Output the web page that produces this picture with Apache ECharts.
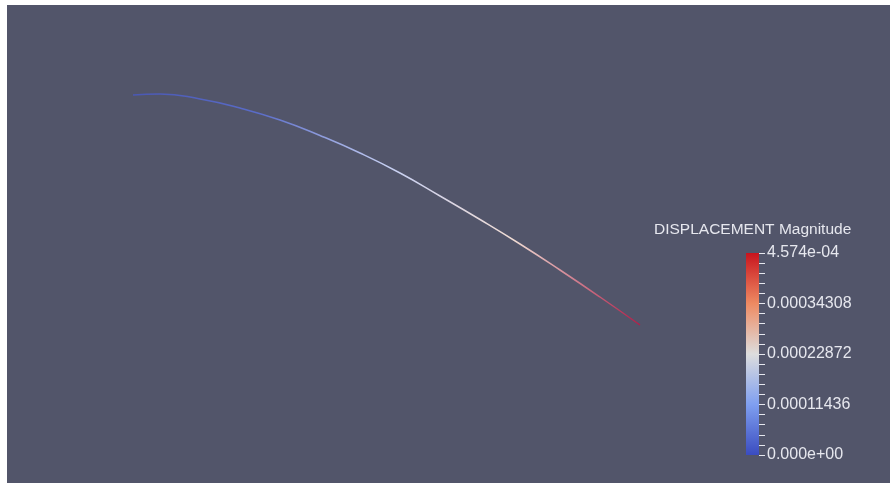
<!DOCTYPE html>
<html>
<head>
<meta charset="utf-8">
<style>html,body{margin:0;padding:0;background:#fff}#c{width:890px;height:483px}</style>
<script src="https://cdn.jsdelivr.net/npm/echarts@6/dist/echarts.min.js"></script>
</head>
<body>
<div id="c"></div>
<script>
const beamX = [133,160,200,240,280,320,360,400,440,480,520,560,600,640];
const beamY = [95,94,99,108,120,135.5,153,173,196,219.5,244,270,297,325];
const lineRamp = ['#4a58b4','#5a6cc8','#c4cef2','#f0dcd4','#b01e48'];
const scaleMax = 4.574e-4;
const scaleStep = 1.1435e-4;
const tickLabels = ['0.000e+00','0.00011436','0.00022872','0.00034308','4.574e-04'];
const scaleTitle = 'DISPLACEMENT Magnitude';
const ink = '#e6e7ee';

const chart = echarts.init(document.getElementById('c'), null, {renderer:'canvas'});
chart.setOption({
  animation:false,
  backgroundColor:'#ffffff',
  title:{text:scaleTitle,left:654,top:222,padding:0,textStyle:{color:ink,fontFamily:'Liberation Sans',fontSize:15.5,fontWeight:'normal'}},
  grid:[
    {left:7,top:5,right:0,bottom:0,show:true,backgroundColor:'#52556a',borderWidth:0},
    {left:746,top:253,width:13,height:202,show:false}
  ],
  xAxis:[
    {gridIndex:0,type:'value',min:7,max:890,show:false},
    {gridIndex:1,type:'category',data:['m'],show:false}
  ],
  yAxis:[
    {gridIndex:0,type:'value',min:5,max:483,inverse:true,show:false},
    {gridIndex:1,type:'value',min:0,max:scaleMax,interval:scaleStep,position:'right',
     splitLine:{show:false},axisLine:{show:false},
     axisTick:{show:true,length:6,lineStyle:{color:ink,width:1}},
     minorTick:{show:true,splitNumber:5,length:6,lineStyle:{color:ink,width:1}},
     axisLabel:{show:true,margin:8,color:ink,fontFamily:'Liberation Sans',fontSize:16,
       formatter:(v,i)=>tickLabels[i]}}
  ],
  visualMap:[{type:'continuous',show:false,seriesIndex:0,dimension:0,min:beamX[0],max:beamX[beamX.length-1],inRange:{color:lineRamp}}],
  series:[
    {type:'line',xAxisIndex:0,yAxisIndex:0,smooth:0.5,showSymbol:false,silent:true,lineStyle:{width:1.5},
     data:beamX.map((x,i)=>[x,beamY[i]])},
    {type:'bar',xAxisIndex:1,yAxisIndex:1,barWidth:'100%',silent:true,data:[scaleMax],
     itemStyle:{color:new echarts.graphic.LinearGradient(0,0,0,1,[
       {offset:0,color:'#c8141e'},{offset:0.25,color:'#ee8a62'},{offset:0.5,color:'#dddddd'},{offset:0.75,color:'#7f9ff0'},{offset:1,color:'#3a4cc0'}])}}
  ]
});
</script>
</body>
</html>
